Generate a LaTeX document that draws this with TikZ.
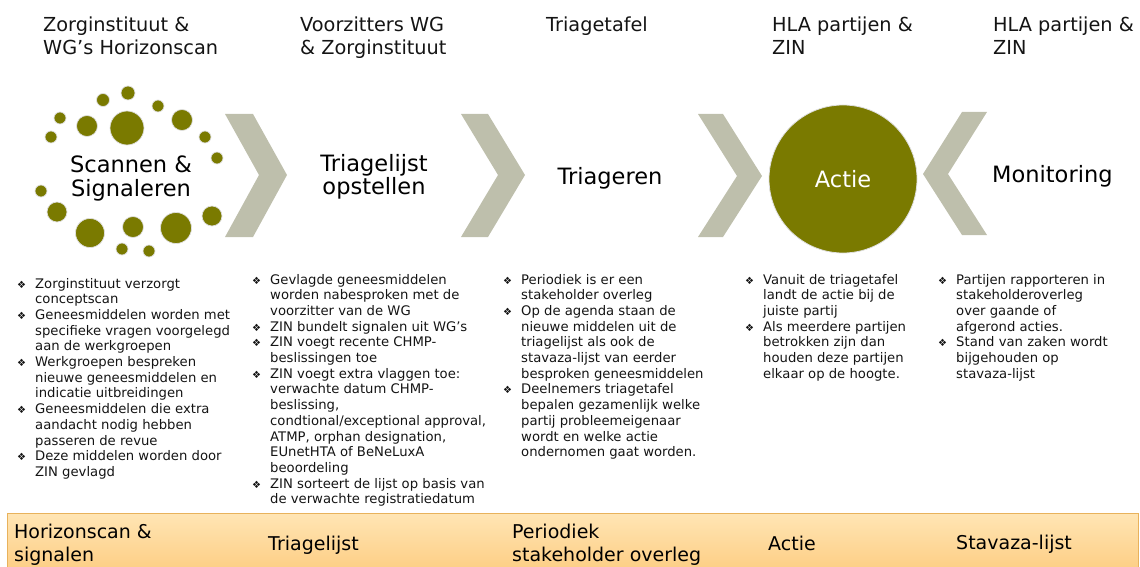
\documentclass[tikz,border=0pt]{standalone}
\usepackage{fontspec}
\setmainfont{DejaVu Sans}
\definecolor{olv}{RGB}{122,122,0}
\definecolor{chev}{RGB}{190,191,172}
\definecolor{bartop}{RGB}{255,229,180}
\definecolor{barbot}{RGB}{253,204,128}
\definecolor{barline}{RGB}{232,178,92}
\definecolor{txt}{RGB}{20,20,20}
\newcommand{\bul}{\makebox[18pt][l]{\fontsize{10}{10}\selectfont ❖}}
\tikzset{
  spot/.style={circle, fill=olv, draw=white!75!gray, line width=0.7pt, inner sep=0pt, minimum size=#1},
  chevshape/.style={fill=chev, draw=none},
  body/.style={anchor=base west, inner sep=0pt, text=txt, font=\fontsize{13.2}{15.7}\selectfont},
  hdr/.style={anchor=base west, inner sep=0pt, text=txt, font=\fontsize{19.3}{23}\selectfont},
  big/.style={anchor=base, inner sep=0pt, text=black, font=\fontsize{22.5}{24}\selectfont},
  bartxt/.style={anchor=base west, inner sep=0pt, text=black, font=\fontsize{19}{23.5}\selectfont},
}
\begin{document}
\begin{tikzpicture}[x=1pt,y=-1pt]
\useasboundingbox (0,0) rectangle (1140,567);

% headers
\node[hdr] (h1) at (43,32) {\begin{tabular}[t]{@{}l@{}}Zorginstituut \&\\WG’s Horizonscan\end{tabular}};
\node[hdr] (h2) at (300,32) {\begin{tabular}[t]{@{}l@{}}Voorzitters WG\\\& Zorginstituut\end{tabular}};
\node[hdr] (h3) at (546,32) {Triagetafel};
\node[hdr] (h4) at (772,32) {\begin{tabular}[t]{@{}l@{}}HLA partijen \&\\ZIN\end{tabular}};
\node[hdr] (h5) at (993,32) {\begin{tabular}[t]{@{}l@{}}HLA partijen \&\\ZIN\end{tabular}};

% scattered circles
\node[spot=14pt] (s1) at (128,93) {};
\node[spot=13pt] (s2) at (103,100) {};
\node[spot=12pt] (s3) at (158,106) {};
\node[spot=12pt] (s4) at (60,118) {};
\node[spot=21pt] (s5) at (87,126) {};
\node[spot=34pt] (s6) at (127,128) {};
\node[spot=21pt] (s7) at (182,120) {};
\node[spot=12pt] (s8) at (51,137) {};
\node[spot=12pt] (s9) at (205,137) {};
\node[spot=12pt] (s10) at (217,158) {};
\node[spot=12pt] (s11) at (41,191) {};
\node[spot=20pt] (s12) at (57,212) {};
\node[spot=29pt] (s13) at (90,233) {};
\node[spot=21pt] (s14) at (133,227) {};
\node[spot=31pt] (s15) at (176,228) {};
\node[spot=20pt] (s16) at (212,216) {};
\node[spot=12pt] (s17) at (122,249) {};
\node[spot=12pt] (s18) at (149,251) {};

% chevrons
\fill[chevshape] (225,114) -- (253,114) -- (287,175) -- (253,237) -- (225,237) -- (259,175) -- cycle;
\fill[chevshape] (461,114) -- (488,114) -- (525,175) -- (488,237) -- (461,237) -- (498,175) -- cycle;
\fill[chevshape] (698,114) -- (723,114) -- (762,176) -- (723,237) -- (698,237) -- (737,176) -- cycle;
\fill[chevshape] (987,112) -- (962,112) -- (923,174) -- (962,235) -- (987,235) -- (948,174) -- cycle;

% big labels
\node[big] (l1) at (131,172) {\begin{tabular}[t]{@{}c@{}}Scannen \&\\Signaleren\end{tabular}};
\node[big, font=\fontsize{22.5}{21}\selectfont] (l2) at (374,171) {\begin{tabular}[t]{@{}c@{}}Triagelijst\\opstellen\end{tabular}};
\node[big] (l3) at (610,184) {Triageren};
\node[circle, fill=olv, draw=white!75!gray, line width=0.8pt, minimum size=148pt, inner sep=0pt] (actie) at (843,179) {};
\node[big, text=white] (l4) at (843,187) {Actie};
\node[big, anchor=base west] (l5) at (992,182) {Monitoring};

% bullet lists
\node[body] (b1) at (17,288) {\begin{tabular}[t]{@{}l@{}l@{}}
\bul & Zorginstituut verzorgt\\
 & conceptscan\\
\bul & Geneesmiddelen worden met\\
 & specifieke vragen voorgelegd\\
 & aan de werkgroepen\\
\bul & Werkgroepen bespreken\\
 & nieuwe geneesmiddelen en\\
 & indicatie uitbreidingen\\
\bul & Geneesmiddelen die extra\\
 & aandacht nodig hebben\\
 & passeren de revue\\
\bul & Deze middelen worden door\\
 & ZIN gevlagd
\end{tabular}};

\node[body] (b2) at (252,284) {\begin{tabular}[t]{@{}l@{}l@{}}
\bul & Gevlagde geneesmiddelen\\
 & worden nabesproken met de\\
 & voorzitter van de WG\\
\bul & ZIN bundelt signalen uit WG’s\\
\bul & ZIN voegt recente CHMP-\\
 & beslissingen toe\\
\bul & ZIN voegt extra vlaggen toe:\\
 & verwachte datum CHMP-\\
 & beslissing,\\
 & condtional/exceptional approval,\\
 & ATMP, orphan designation,\\
 & EUnetHTA of BeNeLuxA\\
 & beoordeling\\
\bul & ZIN sorteert de lijst op basis van\\
 & de verwachte registratiedatum
\end{tabular}};

\node[body] (b3) at (503,284) {\begin{tabular}[t]{@{}l@{}l@{}}
\bul & Periodiek is er een\\
 & stakeholder overleg\\
\bul & Op de agenda staan de\\
 & nieuwe middelen uit de\\
 & triagelijst als ook de\\
 & stavaza-lijst van eerder\\
 & besproken geneesmiddelen\\
\bul & Deelnemers triagetafel\\
 & bepalen gezamenlijk welke\\
 & partij probleemeigenaar\\
 & wordt en welke actie\\
 & ondernomen gaat worden.
\end{tabular}};

\node[body] (b4) at (745,284) {\begin{tabular}[t]{@{}l@{}l@{}}
\bul & Vanuit de triagetafel\\
 & landt de actie bij de\\
 & juiste partij\\
\bul & Als meerdere partijen\\
 & betrokken zijn dan\\
 & houden deze partijen\\
 & elkaar op de hoogte.
\end{tabular}};

\node[body] (b5) at (938,284) {\begin{tabular}[t]{@{}l@{}l@{}}
\bul & Partijen rapporteren in\\
 & stakeholderoverleg\\
 & over gaande of\\
 & afgerond acties.\\
\bul & Stand van zaken wordt\\
 & bijgehouden op\\
 & stavaza-lijst
\end{tabular}};

% bottom bar
\node[draw=barline, line width=0.8pt, top color=bartop, bottom color=barbot, anchor=north west, minimum width=1131pt, minimum height=62pt, inner sep=0pt] (bar) at (7,513) {};
\node[bartxt] (t1) at (14,538) {\begin{tabular}[t]{@{}l@{}}Horizonscan \&\\signalen\end{tabular}};
\node[bartxt] (t2) at (268,550) {Triagelijst};
\node[bartxt] (t3) at (512,538) {\begin{tabular}[t]{@{}l@{}}Periodiek\\stakeholder overleg\end{tabular}};
\node[bartxt] (t4) at (768,550) {Actie};
\node[bartxt] (t5) at (956,549) {Stavaza-lijst};
\end{tikzpicture}
\end{document}
